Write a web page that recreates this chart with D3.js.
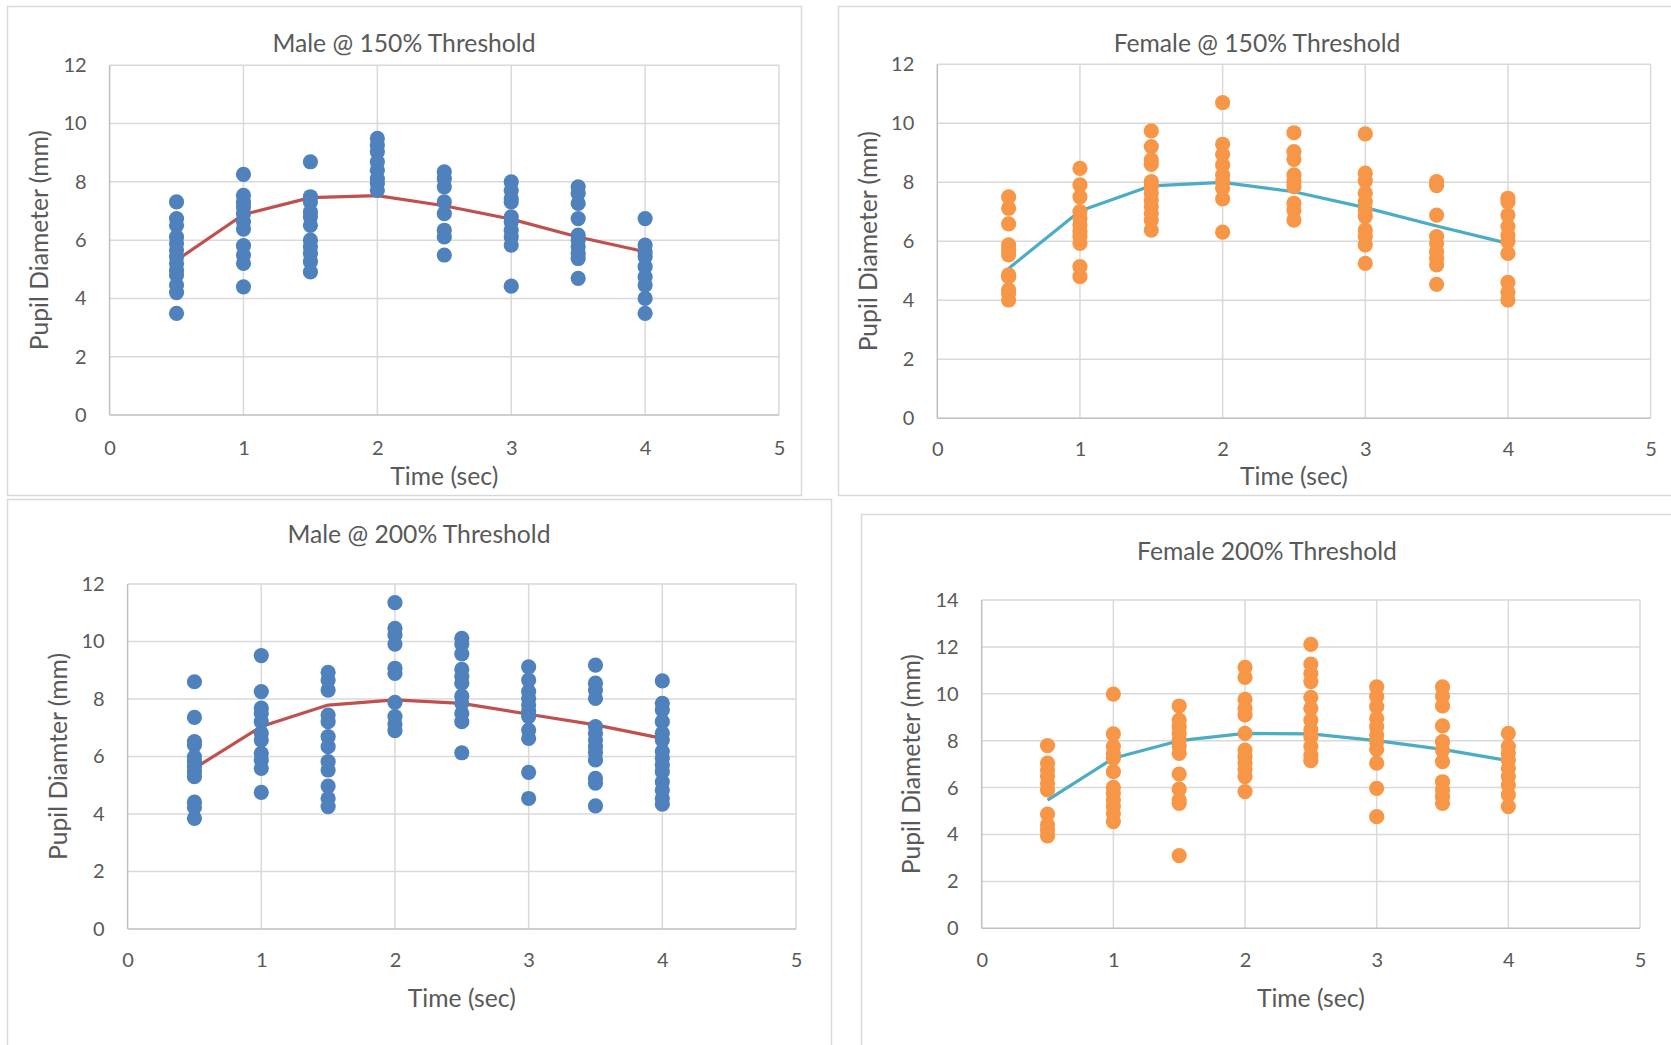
<!DOCTYPE html>
<html>
<head>
<meta charset="utf-8">
<script src="https://cdn.jsdelivr.net/npm/d3@7"></script>
<style>
  html, body { margin: 0; padding: 0; background: #ffffff; overflow: hidden; }
  svg { display: block; }
  text { font-family: Lato, "Open Sans", sans-serif; fill: #595959; }
</style>
</head>
<body>
<svg id="chart" width="1671" height="1045"></svg>
<script>
// ---------------- DATA ----------------
const timePoints = [0.5, 1, 1.5, 2, 2.5, 3, 3.5, 4];
const xTickLabels = [0, 1, 2, 3, 4, 5];
const yTickLabels12 = [0, 2, 4, 6, 8, 10, 12];
const yTickLabels14 = [0, 2, 4, 6, 8, 10, 12, 14];

// Male @ 150% Threshold (values per time point)
const male150 = [
  [7.31, 6.74, 6.51, 6.11, 5.89, 5.66, 5.43, 5.2, 4.97, 4.8, 4.46, 4.2, 3.49],
  [8.26, 7.54, 7.31, 7.14, 6.91, 6.63, 6.38, 5.81, 5.49, 5.2, 4.4],
  [8.69, 7.49, 7.31, 6.97, 6.8, 6.51, 6.0, 5.77, 5.54, 5.26, 4.91],
  [9.49, 9.26, 9.03, 8.69, 8.4, 8.11, 7.94, 7.71],
  [8.34, 8.11, 7.83, 7.31, 6.91, 6.34, 6.11, 5.49],
  [8.0, 7.71, 7.43, 7.31, 6.8, 6.63, 6.34, 6.11, 5.83, 4.42],
  [7.83, 7.6, 7.26, 6.74, 6.17, 6.0, 5.77, 5.54, 5.37, 4.69],
  [6.74, 5.83, 5.6, 5.43, 5.09, 4.74, 4.46, 4.0, 3.49]
];
const male150Mean = [5.31, 6.88, 7.46, 7.53, 7.18, 6.72, 6.11, 5.6];

// Female @ 150% Threshold
const female150 = [
  [7.51, 7.12, 6.59, 5.88, 5.71, 5.54, 4.86, 4.8, 4.35, 4.24, 4.01],
  [8.47, 7.91, 7.51, 7.01, 6.78, 6.55, 6.33, 6.16, 5.93, 5.14, 4.8],
  [9.74, 9.21, 8.76, 8.61, 8.02, 7.85, 7.63, 7.4, 7.18, 6.95, 6.72, 6.38],
  [10.7, 9.29, 8.95, 8.59, 8.25, 8.02, 7.8, 7.44, 6.31],
  [9.68, 9.04, 8.78, 8.25, 8.02, 7.85, 7.29, 7.06, 6.72],
  [9.64, 8.31, 8.05, 7.63, 7.34, 7.06, 6.84, 6.38, 6.16, 5.88, 5.25],
  [8.02, 7.89, 6.89, 6.16, 5.93, 5.65, 5.42, 5.2, 4.54],
  [7.46, 7.34, 6.89, 6.5, 6.21, 5.99, 5.59, 4.61, 4.27, 4.01]
];
const female150Mean = [5.08, 7.03, 7.88, 8.0, 7.68, 7.14, 6.52, 5.93];

// Male @ 200% Threshold
const male200 = [
  [8.6, 7.36, 6.52, 6.4, 5.99, 5.82, 5.65, 5.47, 5.3, 4.41, 4.23, 3.85],
  [9.51, 8.26, 7.68, 7.5, 7.21, 6.81, 6.57, 6.11, 5.88, 5.59, 4.75],
  [8.93, 8.66, 8.31, 7.44, 7.21, 6.69, 6.34, 5.82, 5.53, 4.97, 4.54, 4.26],
  [11.35, 10.46, 10.23, 9.91, 9.07, 8.89, 7.88, 7.39, 7.13, 6.9],
  [10.11, 9.91, 9.57, 9.03, 8.78, 8.55, 8.1, 7.85, 7.5, 7.21, 6.13],
  [9.12, 8.66, 8.26, 8.02, 7.79, 7.56, 7.39, 6.92, 6.63, 5.45, 4.54],
  [9.18, 8.55, 8.31, 8.02, 7.04, 6.81, 6.57, 6.34, 6.13, 5.88, 5.24, 5.07, 4.28],
  [8.63, 7.85, 7.62, 7.21, 6.81, 6.57, 6.17, 5.94, 5.7, 5.47, 5.12, 4.83, 4.54, 4.34]
];
const male200Mean = [5.59, 7.04, 7.79, 7.97, 7.85, 7.47, 7.1, 6.63];

// Female 200% Threshold
const female200 = [
  [7.79, 7.04, 6.75, 6.47, 6.18, 5.9, 4.87, 4.41, 4.19, 3.94],
  [9.99, 8.29, 7.75, 7.46, 7.25, 6.68, 6.01, 5.76, 5.47, 5.19, 4.9, 4.55],
  [9.48, 8.88, 8.6, 8.31, 8.03, 7.75, 7.46, 6.58, 5.94, 5.47, 5.33, 3.1],
  [11.13, 10.7, 9.76, 9.38, 9.1, 8.31, 7.6, 7.32, 7.04, 6.78, 6.47, 5.83],
  [12.11, 11.27, 10.87, 10.52, 9.85, 9.38, 8.88, 8.46, 8.17, 7.75, 7.39, 7.15],
  [10.3, 9.88, 9.45, 8.95, 8.6, 8.24, 7.96, 7.63, 7.04, 5.97, 4.76],
  [10.3, 9.9, 9.48, 8.63, 7.96, 7.6, 7.11, 6.25, 5.9, 5.61, 5.33],
  [8.31, 7.75, 7.46, 7.18, 6.82, 6.47, 6.11, 5.69, 5.19]
];
const female200Mean = [5.47, 7.25, 8.0, 8.31, 8.29, 8.0, 7.63, 7.15];

// ---------------- LAYOUT ----------------
const BLUE = "#4f81bd", RED = "#c0504d", ORANGE = "#f79646", TEAL = "#4bacc6";

const panels = [
  { title: "Male @ 150% Threshold", yTitle: "Pupil Diameter (mm)", data: male150, mean: male150Mean,
    dot: BLUE, line: RED, yTicks: yTickLabels12,
    box: [7, 6, 794, 489], px0: 109.6, px1: 779, pyTop: 65.3, pyBot: 415,
    titleY: 43, yTitleX: 39, xLabY: 447.5, xTitleY: 476.5 },
  { title: "Female @ 150% Threshold", yTitle: "Pupil Diameter (mm)", data: female150, mean: female150Mean,
    dot: ORANGE, line: TEAL, yTicks: yTickLabels12,
    box: [838, 6, 838, 489], px0: 937.3, px1: 1650.6, pyTop: 64.3, pyBot: 418.3,
    titleY: 43, yTitleX: 868.6, xLabY: 449, xTitleY: 476.5 },
  { title: "Male @ 200% Threshold", yTitle: "Pupil Diamter (mm)", data: male200, mean: male200Mean,
    dot: BLUE, line: RED, yTicks: yTickLabels12,
    box: [7, 499, 824, 560], px0: 127.6, px1: 796, pyTop: 584, pyBot: 929,
    titleY: 534, yTitleX: 58.6, xLabY: 960, xTitleY: 998.5 },
  { title: "Female 200% Threshold", yTitle: "Pupil Diameter (mm)", data: female200, mean: female200Mean,
    dot: ORANGE, line: TEAL, yTicks: yTickLabels14,
    box: [861, 514, 812, 545], px0: 981.7, px1: 1640, pyTop: 600, pyBot: 928.3,
    titleY: 551, yTitleX: 911.7, xLabY: 960, xTitleY: 998.5 }
];

const TITLE_SIZE = 24.7, TICK_SIZE = 20;
const svg = d3.select("#chart");

panels.forEach(p => {
  const g = svg.append("g");
  // panel border
  g.append("rect")
    .attr("x", p.box[0] + 0.5).attr("y", p.box[1] + 0.5)
    .attr("width", p.box[2]).attr("height", p.box[3])
    .attr("fill", "#fff").attr("stroke", "#d9d9d9").attr("stroke-width", 1.5);

  const yMax = p.yTicks[p.yTicks.length - 1];
  const x = d3.scaleLinear().domain([0, 5]).range([p.px0, p.px1]);
  const y = d3.scaleLinear().domain([0, yMax]).range([p.pyBot, p.pyTop]);

  // gridlines
  g.append("g").selectAll("line").data(p.yTicks.filter(v => v > 0)).join("line")
    .attr("x1", p.px0).attr("x2", p.px1)
    .attr("y1", d => y(d)).attr("y2", d => y(d))
    .attr("stroke", "#d9d9d9").attr("stroke-width", 1.5);
  g.append("g").selectAll("line").data(xTickLabels.filter(v => v > 0)).join("line")
    .attr("x1", d => x(d)).attr("x2", d => x(d))
    .attr("y1", p.pyTop).attr("y2", p.pyBot)
    .attr("stroke", "#d9d9d9").attr("stroke-width", 1.5);

  // axis lines
  g.append("line").attr("x1", p.px0).attr("x2", p.px1).attr("y1", p.pyBot).attr("y2", p.pyBot)
    .attr("stroke", "#bfbfbf").attr("stroke-width", 1.5);
  g.append("line").attr("x1", p.px0).attr("x2", p.px0).attr("y1", p.pyTop).attr("y2", p.pyBot)
    .attr("stroke", "#bfbfbf").attr("stroke-width", 1.5);

  // tick labels via d3 axes (no tick marks / domain)
  const yAxis = d3.axisLeft(y).tickValues(p.yTicks).tickSize(0).tickPadding(23).tickFormat(d3.format("d"));
  const ya = g.append("g").attr("transform", `translate(${p.px0},0)`).call(yAxis);
  ya.select(".domain").remove();
  ya.selectAll("text").attr("font-size", TICK_SIZE).attr("fill", "#595959").attr("font-family", "Lato, sans-serif");

  const xAxis = d3.axisBottom(x).tickValues(xTickLabels).tickSize(0).tickPadding(0).tickFormat(d3.format("d"));
  const xa = g.append("g").attr("transform", `translate(0,${p.xLabY})`).call(xAxis);
  xa.select(".domain").remove();
  xa.selectAll("text").attr("dy", "0.35em").attr("font-size", TICK_SIZE).attr("fill", "#595959").attr("font-family", "Lato, sans-serif");

  // mean line
  const lineGen = d3.line().x((d, i) => x(timePoints[i])).y(d => y(d));
  g.append("path").datum(p.mean).attr("d", lineGen)
    .attr("fill", "none").attr("stroke", p.line).attr("stroke-width", 3.2).attr("stroke-linejoin", "round");

  // dots
  const pts = [];
  p.data.forEach((arr, i) => arr.forEach(v => pts.push({ t: timePoints[i], v })));
  g.append("g").selectAll("circle").data(pts).join("circle")
    .attr("cx", d => x(d.t)).attr("cy", d => y(d.v)).attr("r", 7.6)
    .attr("fill", p.dot);

  // titles
  g.append("text").attr("x", p.box[0] + p.box[2] / 2).attr("y", p.titleY)
    .attr("text-anchor", "middle").attr("dy", "0.35em").attr("font-size", TITLE_SIZE)
    .text(p.title);
  g.append("text").attr("x", (p.px0 + p.px1) / 2).attr("y", p.xTitleY)
    .attr("text-anchor", "middle").attr("dy", "0.35em").attr("font-size", TITLE_SIZE)
    .text("Time (sec)");
  g.append("text")
    .attr("transform", `translate(${p.yTitleX},${(p.pyTop + p.pyBot) / 2}) rotate(-90)`)
    .attr("text-anchor", "middle").attr("dy", "0.35em").attr("font-size", TITLE_SIZE)
    .text(p.yTitle);
});
</script>
</body>
</html>
